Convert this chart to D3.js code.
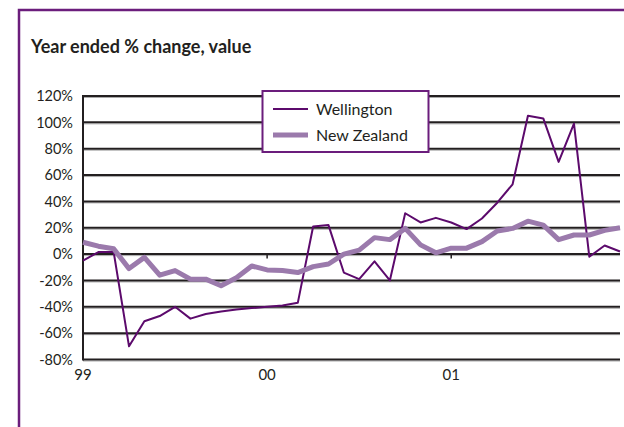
<!DOCTYPE html>
<html>
<head>
<meta charset="utf-8">
<script src="https://cdn.jsdelivr.net/npm/d3@7"></script>
<style>
  html, body { margin: 0; padding: 0; background: #fff; }
  svg { display: block; font-family: Lato, "Open Sans", sans-serif; }
</style>
</head>
<body>
<div id="chart"></div>
<script>
// monthly data, Jan 1999 .. Dec 2001
const years = ["99", "00", "01"];
const monthNames = ["Jan","Feb","Mar","Apr","May","Jun","Jul","Aug","Sep","Oct","Nov","Dec"];
const months = years.flatMap(y => monthNames.map(m => m + " " + y));

const wellington = [
  -5, 1.5, 1.5, -70, -51, -47, -40, -49, -45.5, -43.5, -42, -41,
  -40, -39, -37, 21, 22, -14, -19, -5.5, -20, 31, 24, 27.5,
  24, 19, 27, 39, 53, 105, 103, 70, 99, -2, 6.5, 2
];
const newZealand = [
  9, 6, 4, -11, -2.5, -16, -12.5, -19, -19, -24, -18, -9,
  -12, -12.5, -14, -9.5, -7.5, 0, 3, 12.5, 11, 19.5, 7, 1,
  4.5, 4.5, 9.5, 17.5, 19.5, 25, 22, 11, 14.5, 14.5, 18, 20
];
const yTicks = [120, 100, 80, 60, 40, 20, 0, -20, -40, -60, -80];
const seriesNames = ["Wellington", "New Zealand"];

createChart();

function createChart() {
  const width = 624, height = 427;
  const left = 83, right = 620, top = 96, bottom = 359.5;

  const svg = d3.select("#chart").append("svg")
      .attr("width", width)
      .attr("height", height);

  // purple frame (only top and left visible)
  svg.append("path")
      .attr("d", "M19,430 L19,10 L630,10")
      .attr("fill", "none")
      .attr("stroke", "#6b1d7c")
      .attr("stroke-width", 2.5);

  svg.append("text")
      .attr("x", 31)
      .attr("y", 53)
      .attr("font-size", 18)
      .attr("font-weight", "bold")
      .attr("fill", "#231f20")
      .text("Year ended % change, value");

  const x = d3.scalePoint().domain(months).range([left, right]);
  const y = d3.scaleLinear().domain([-80, 120]).range([bottom, top]);

  // gridlines with a light shadow underneath
  const grid = svg.append("g");
  grid.selectAll(".shadow")
    .data(yTicks)
    .enter().append("line")
      .attr("x1", left).attr("x2", right)
      .attr("y1", d => y(d) + 1.5).attr("y2", d => y(d) + 1.5)
      .attr("stroke", "#aaa")
      .attr("stroke-width", 1);
  grid.selectAll(".grid")
    .data(yTicks)
    .enter().append("line")
      .attr("x1", left).attr("x2", right)
      .attr("y1", d => y(d)).attr("y2", d => y(d))
      .attr("stroke", "#231f20")
      .attr("stroke-width", 2);

  // y axis line
  svg.append("line")
      .attr("x1", left).attr("x2", left)
      .attr("y1", top - 1).attr("y2", bottom + 1)
      .attr("stroke", "#231f20")
      .attr("stroke-width", 2);

  svg.append("g").selectAll("text")
    .data(yTicks)
    .enter().append("text")
      .attr("x", 73)
      .attr("y", d => y(d))
      .attr("dy", "0.36em")
      .attr("text-anchor", "end")
      .attr("font-size", 14.5)
      .attr("fill", "#231f20")
      .text(d => d + "%");

  // year ticks on the 0% line and labels below
  const yearStarts = years.map(yr => "Jan " + yr);
  svg.append("g").selectAll("line")
    .data(yearStarts.slice(1))
    .enter().append("line")
      .attr("x1", d => x(d)).attr("x2", d => x(d))
      .attr("y1", y(0)).attr("y2", y(0) + 4.5)
      .attr("stroke", "#231f20")
      .attr("stroke-width", 1.5);

  svg.append("g").selectAll("text")
    .data(years)
    .enter().append("text")
      .attr("x", d => x("Jan " + d))
      .attr("y", 380)
      .attr("text-anchor", "middle")
      .attr("font-size", 15)
      .attr("fill", "#231f20")
      .text(d => d);

  const line = d3.line()
      .x((d, i) => x(months[i]))
      .y(d => y(d));

  svg.append("path")
      .datum(wellington)
      .attr("d", line)
      .attr("fill", "none")
      .attr("stroke", "#5c0a6c")
      .attr("stroke-width", 2)
      .attr("stroke-linejoin", "round");

  svg.append("path")
      .datum(newZealand)
      .attr("d", line)
      .attr("fill", "none")
      .attr("stroke", "#9b7aac")
      .attr("stroke-width", 5)
      .attr("stroke-linejoin", "round");

  // legend
  const legend = svg.append("g");
  legend.append("rect")
      .attr("x", 262.5).attr("y", 91)
      .attr("width", 166).attr("height", 61)
      .attr("fill", "#fff")
      .attr("stroke", "#6b1d7c")
      .attr("stroke-width", 2);

  const legendStyles = [
    { color: "#5c0a6c", w: 2 },
    { color: "#9b7aac", w: 5 }
  ];
  const item = legend.selectAll(".item")
    .data(seriesNames)
    .enter().append("g")
      .attr("transform", (d, i) => "translate(0," + (109 + i * 26) + ")");
  item.append("line")
      .attr("x1", 273).attr("x2", 308)
      .attr("stroke", (d, i) => legendStyles[i].color)
      .attr("stroke-width", (d, i) => legendStyles[i].w);
  item.append("text")
      .attr("x", 316)
      .attr("dy", "0.36em")
      .attr("font-size", 16)
      .attr("fill", "#231f20")
      .text(d => d);
}
</script>
</body>
</html>
